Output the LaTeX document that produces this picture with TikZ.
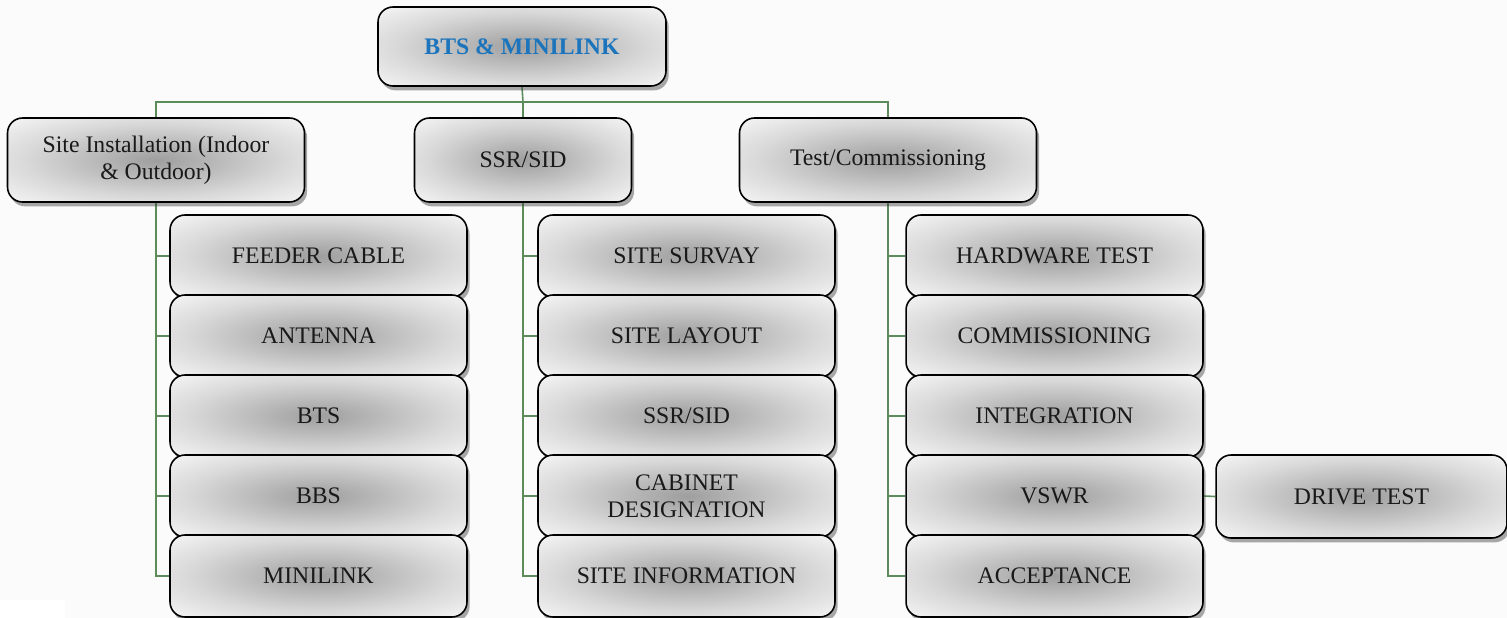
\documentclass[tikz,border=0pt]{standalone}
\usepackage{fontspec}
\setmainfont{Liberation Serif}
\usepackage{tikz}
\usetikzlibrary{shadows,backgrounds}
\definecolor{linkgreen}{HTML}{5B8C5A}
\definecolor{rootblue}{HTML}{1C75BC}
\pgfdeclareradialshading{boxshade}{\pgfpoint{0bp}{0bp}}{%
  color(0bp)=(black!38); color(22bp)=(black!15); color(34bp)=(black!5); color(50bp)=(black!5)}
\tikzset{
  box/.style={draw=black, line width=0.9pt, rounded corners=0.3cm, shading=boxshade,
    drop shadow={shadow xshift=1.5pt, shadow yshift=-2.5pt, opacity=0.45, fill=black!75},
    align=center, font=\fontsize{13.5}{15.5}\selectfont, text=black!90, inner sep=2pt},
  item/.style={box, minimum width=5.94cm, minimum height=1.64cm},
  link/.style={draw=linkgreen, line width=0.9pt}
}
\begin{document}
\begin{tikzpicture}[x=0.02cm, y=-0.02cm]
  \useasboundingbox (0,0) rectangle (1507,618);
  % top
  \node[box, font=\fontsize{13.5}{15.5}\selectfont\bfseries, text=rootblue,
    minimum width=5.76cm, minimum height=1.58cm] (root) at (522,46.5) {BTS \& MINILINK};
  % second level
  \node[box, minimum width=5.94cm, minimum height=1.68cm] (site) at (156,160)
    {Site Installation (Indoor\\ \& Outdoor)};
  \node[box, minimum width=4.34cm, minimum height=1.68cm] (ssr) at (523,160) {SSR/SID};
  \node[box, minimum width=5.94cm, minimum height=1.68cm] (test) at (888,160) {Test/Commissioning};
  % columns
  \foreach \lbl [count=\i] in {FEEDER CABLE, ANTENNA, BTS, BBS, MINILINK}
    \node[item] (site\i) at (318.5,176+80*\i) {\lbl};
  \foreach \lbl [count=\i] in {SITE SURVAY, SITE LAYOUT, SSR/SID, {CABINET\\DESIGNATION}, SITE INFORMATION}
    \node[item] (ssr\i) at (686.5,176+80*\i) {\lbl};
  \foreach \lbl [count=\i] in {HARDWARE TEST, COMMISSIONING, INTEGRATION, VSWR, ACCEPTANCE}
    \node[item] (test\i) at (1054.5,176+80*\i) {\lbl};
  \node[box, minimum width=5.82cm, minimum height=1.66cm] (drive) at (1361.5,496.5) {DRIVE TEST};
  % connectors
  \begin{scope}[on background layer]
    \fill[black!1.5] (0,0) rectangle (1507,618);
    \fill[white] (0,600) rectangle (65,618);
    \coordinate (bus) at (523,102);
    \draw[link] (root.south) -- (bus);
    \draw[link] (site.north) |- (bus) -| (test.north);
    \draw[link] (bus) -- (ssr.north);
    \foreach \col in {site, ssr, test}
      \foreach \i in {1,...,5}
        \draw[link] (\col.south) |- (\col\i.west);
    \draw[link] (test4.east) -- (drive.west);
  \end{scope}
\end{tikzpicture}
\end{document}
